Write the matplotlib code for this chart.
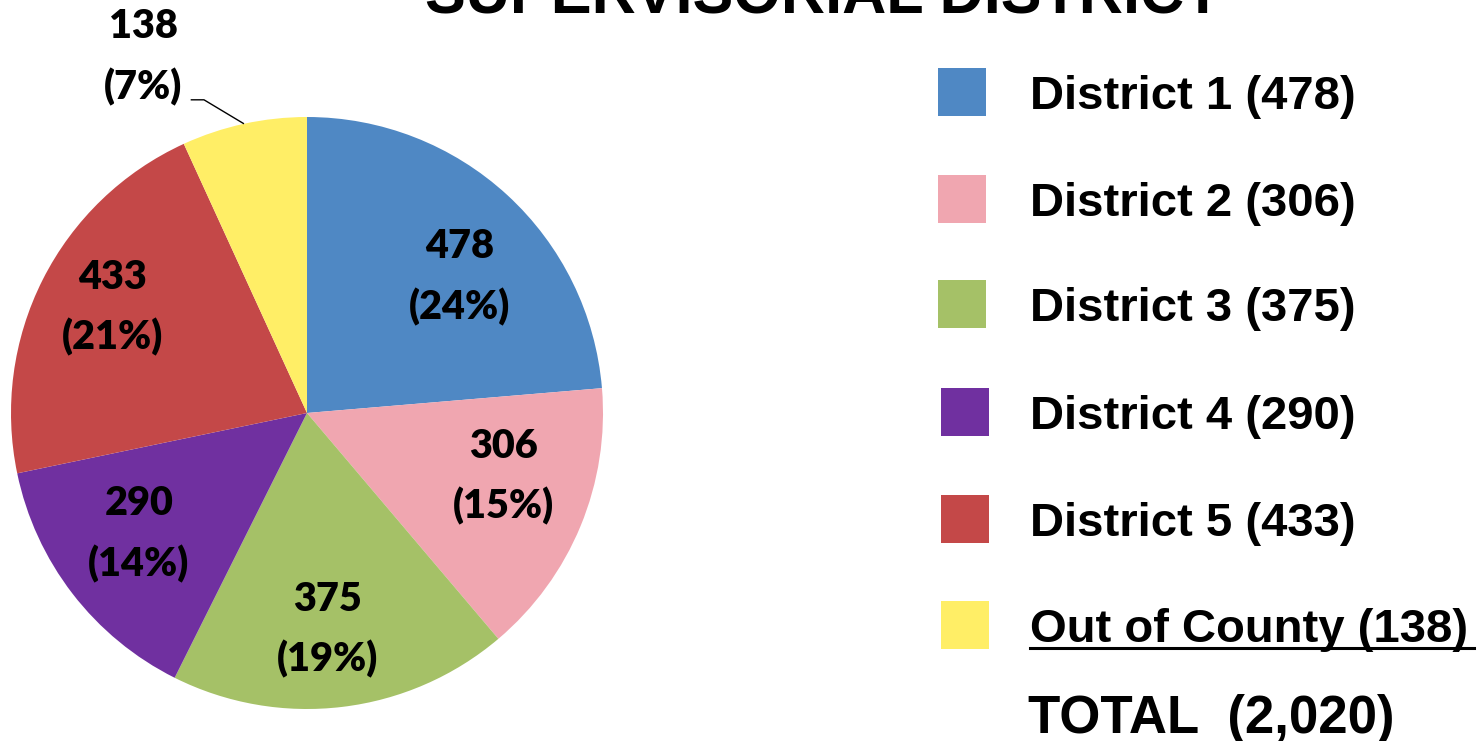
import matplotlib
matplotlib.use("Agg")
import matplotlib.pyplot as plt
from matplotlib.patches import Rectangle
import numpy as np

categories = ["District 1", "District 2", "District 3", "District 4", "District 5", "Out of County"]
values = [478, 306, 375, 290, 433, 138]
percents = [24, 15, 19, 14, 21, 7]
colors = ["#4F88C4", "#F0A6B0", "#A5C167", "#7030A0", "#C44848", "#FFEE66"]
total_label = "TOTAL  (2,020)"
title = "SUPERVISORIAL DISTRICT"

W, H = 1484, 741
fig = plt.figure(figsize=(W / 100, H / 100), dpi=100)

# pie axes (pixel based placement)
cx, cy, r = 307, 413, 296
ax = fig.add_axes([(cx - r) / W, (H - cy - r) / H, 2 * r / W, 2 * r / H])
wedges, _ = ax.pie(values, colors=colors, startangle=90, counterclock=False,
                   radius=1.0, wedgeprops=dict(linewidth=0))
ax.set_xlim(-1, 1)
ax.set_ylim(-1, 1)
ax.set_aspect("equal")
ax.axis("off")

label_font = dict(family=["Lato", "DejaVu Sans"], fontweight="heavy", fontsize=28.5, color="black")
# label placement: distance from centre and angular offset from wedge middle
dists = [0.691, 0.697, 0.736, 0.700, 0.748]
ang_off = [-5.8, 4.4, -1.4, -1.8, -1.5]
for i, w in enumerate(wedges[:-1]):
    ang = np.deg2rad((w.theta1 + w.theta2) / 2 + ang_off[i])
    d = dists[i]
    ax.text(d * np.cos(ang), d * np.sin(ang), f"{values[i]}\n({percents[i]}%)",
            ha="center", va="center", linespacing=1.72, **label_font)

# outside label for the last slice with leader line
w = wedges[-1]
ang = np.deg2rad((w.theta1 + w.theta2) / 2)
ex, ey = np.cos(ang), np.sin(ang)
elbow = (ex - 0.135, ey + 0.081)
tail = (elbow[0] - 0.045, elbow[1])
ax.plot([ex, elbow[0], tail[0]], [ey, elbow[1], tail[1]], color="black", lw=1,
        clip_on=False, solid_capstyle="butt")
ax.text((143 - cx) / r, (cy - 57) / r, f"{values[-1]}\n({percents[-1]}%)",
        ha="center", va="center", linespacing=1.72, clip_on=False, **label_font)

# title (partially cut off at top)
fig.text(823 / W, (H - 14) / H, title, ha="center", va="baseline",
         family=["Liberation Sans", "DejaVu Sans"], fontweight="bold", fontsize=44)

# legend
leg_y = [92, 199, 304, 412, 519, 625]
leg_x = [938, 938, 938, 941, 941, 941]
box = 48
text_font = dict(family=["Liberation Sans", "DejaVu Sans"], fontweight="bold", fontsize=34)
for i in range(len(categories)):
    y = leg_y[i]
    fig.patches.append(Rectangle((leg_x[i] / W, (H - y - box / 2) / H), box / W, box / H,
                                 transform=fig.transFigure, facecolor=colors[i],
                                 edgecolor="none"))
    fig.text(1030 / W, (H - y) / H, f"{categories[i]} ({values[i]})",
             ha="left", va="center_baseline", **text_font)
    if i == len(categories) - 1:
        fig.lines.append(plt.Line2D([1030 / W, 1474 / W], [(H - 648) / H, (H - 648) / H],
                                    transform=fig.transFigure, color="black", lw=2.2))

fig.text(1028 / W, (H - 713) / H, total_label, ha="left", va="center_baseline",
         family=["Liberation Sans", "DejaVu Sans"], fontweight="bold", fontsize=38)

fig.savefig("out.png", dpi=100, facecolor="white")
